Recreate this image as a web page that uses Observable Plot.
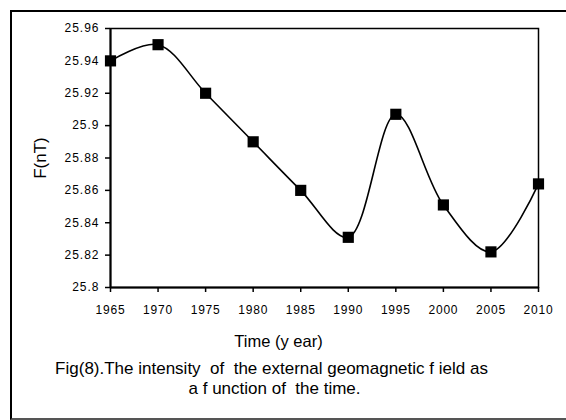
<!DOCTYPE html>
<html>
<head>
<meta charset="utf-8">
<script src="https://cdn.jsdelivr.net/npm/d3@7"></script>
<script src="https://cdn.jsdelivr.net/npm/@observablehq/plot@0.6"></script>
<style>
  html, body { margin: 0; padding: 0; background: #fff; overflow: hidden; }
  #wrap { position: relative; width: 566px; height: 420px; overflow: hidden; }
  #box { position: absolute; left: 10px; top: 10px; width: 600px; height: 406px;
         border: 2px solid #000; border-bottom: 2px solid #555; }
  #chart { position: absolute; left: 0; top: 0; }
</style>
</head>
<body>
<div id="wrap">
  <div id="box"></div>
  <div id="chart"></div>
</div>
<script>
const years = [1965, 1970, 1975, 1980, 1985, 1990, 1995, 2000, 2005, 2010];
const intensity = [25.94, 25.95, 25.92, 25.89, 25.86, 25.831, 25.907, 25.851, 25.822, 25.864];
const yTicks = [25.8, 25.82, 25.84, 25.86, 25.88, 25.9, 25.92, 25.94, 25.96];
const xTicks = [1965, 1970, 1975, 1980, 1985, 1990, 1995, 2000, 2005, 2010];
const xTitle = "Time (y ear)";
const yTitle = "F(nT)";
const caption1 = "Fig(8).The intensity  of  the external geomagnetic f ield as";
const caption2 = "a f unction of  the time.";

const data = years.map((year, i) => ({year, F: intensity[i]}));

const font = "'Liberation Sans', Arial, sans-serif";

const chart = Plot.plot({
  width: 566,
  height: 420,
  marginLeft: 110,
  marginRight: 28,
  marginTop: 28,
  marginBottom: 133,
  style: {fontFamily: font, fontSize: "12px", color: "#000", background: "transparent", overflow: "visible"},
  x: {domain: [1965, 2010], axis: null},
  y: {domain: [25.8, 25.96], axis: null},
  marks: [
    Plot.frame({stroke: "#000", strokeWidth: 1.5}),
    Plot.ruleY([25.8], {stroke: "#000", strokeWidth: 2}),
    Plot.ruleX([1965], {stroke: "#000", strokeWidth: 2}),
    Plot.axisX({ticks: xTicks, tickFormat: d => String(d), tickSize: 5, tickPadding: 13, strokeWidth: 1.5, label: null, fontSize: "12px"}),
    Plot.axisY({ticks: yTicks, tickFormat: d => String(d), tickSize: 5, tickPadding: 6, strokeWidth: 1.5, label: null, fontSize: "12px"}),
    Plot.line(data, {x: "year", y: "F", curve: "catmull-rom", stroke: "#000", strokeWidth: 1.6}),
    Plot.dot(data, {x: "year", y: "F", symbol: "square", r: 6.3, fill: "#000", stroke: "none"}),
    Plot.text([yTitle], {frameAnchor: "left", textAnchor: "middle", lineAnchor: "middle", dx: -70, rotate: -90, fontSize: 17, fill: "#000", text: d => d}),
    Plot.text([xTitle], {frameAnchor: "bottom", textAnchor: "middle", lineAnchor: "middle", dx: -46, dy: 54.5, fontSize: 16.5, fill: "#000", text: d => d}),
    Plot.text([caption1], {frameAnchor: "bottom", textAnchor: "middle", lineAnchor: "middle", dx: -53, dy: 81.5, fontSize: 17, fill: "#000", text: d => d}),
    Plot.text([caption2], {frameAnchor: "bottom", textAnchor: "middle", lineAnchor: "middle", dx: -50, dy: 101, fontSize: 17, fill: "#000", text: d => d})
  ]
});
chart.querySelectorAll("text").forEach(t => t.setAttribute("xml:space", "preserve"));
chart.style.whiteSpace = "pre";
chart.querySelectorAll('[aria-label="x-axis tick label"] text').forEach(t => t.style.letterSpacing = "0.8px");
chart.querySelectorAll('[aria-label="y-axis tick label"] text').forEach(t => t.style.letterSpacing = "1px");
document.getElementById("chart").appendChild(chart);
</script>
</body>
</html>
